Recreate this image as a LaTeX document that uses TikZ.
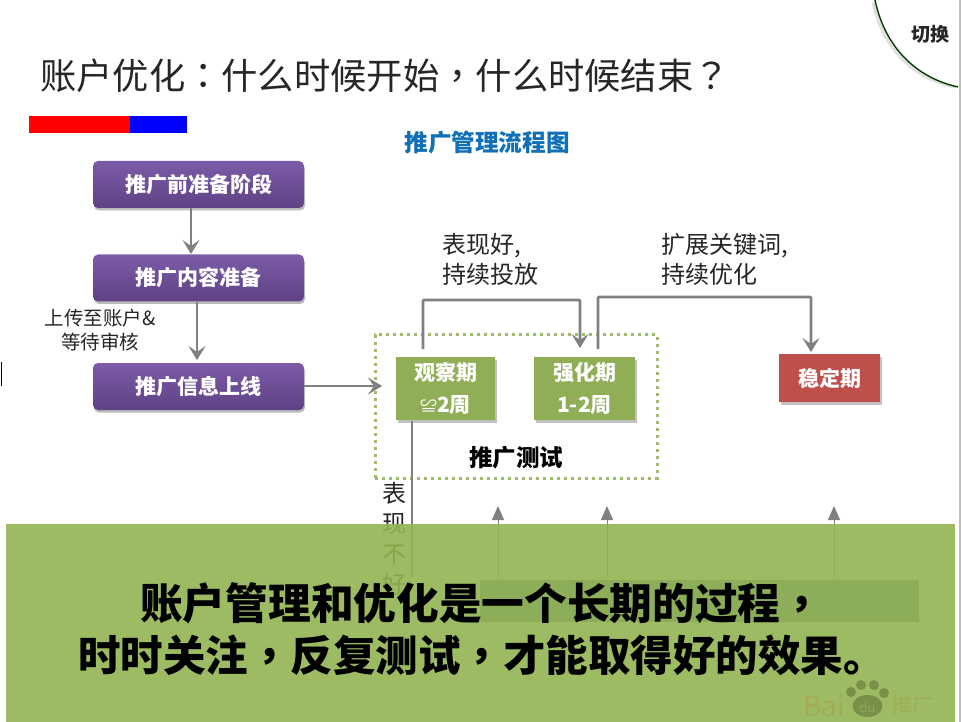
\documentclass[tikz,border=0pt]{standalone}
\usepackage{fontspec}
\setmainfont{Noto Sans CJK SC}
\newfontfamily\tcpunct{Noto Sans CJK TC}
\usetikzlibrary{arrows.meta,shadows}
\definecolor{conn}{HTML}{808080}
\definecolor{purpT}{HTML}{7C5BA8}
\definecolor{purpB}{HTML}{5E4284}
\definecolor{grn}{HTML}{8FAE55}
\definecolor{redb}{HTML}{BE4F4B}
\definecolor{panel}{HTML}{92B451}
\definecolor{strip}{HTML}{8DAE59}
\definecolor{bluet}{HTML}{0F70B8}
\newcommand{\fs}[1]{\fontsize{#1}{#1}\selectfont}
\newcommand{\pc}[1]{{\tcpunct #1}}
\tikzset{
  x=1pt,y=-1pt,
  purplebox/.style={rounded corners=5pt,top color=purpT,bottom color=purpB,draw=none,
    minimum width=211pt,minimum height=47pt,inner sep=0pt,text=white,font=\fs{21}\bfseries,
    drop shadow={shadow xshift=1pt,shadow yshift=-2.5pt,fill=black!45,opacity=.6}},
  greenbox/.style={fill=grn,minimum width=99pt,minimum height=63pt,inner sep=0pt,text=white,
    font=\fontsize{21}{33}\selectfont\bfseries,align=center,
    drop shadow={shadow xshift=2pt,shadow yshift=-3pt,fill=black!30,opacity=.8}},
  redbox/.style={fill=redb,minimum width=101pt,minimum height=48pt,inner sep=0pt,text=white,
    font=\fs{21}\bfseries,drop shadow={shadow xshift=2pt,shadow yshift=-3pt,fill=black!30,opacity=.8}},
  linkline/.style={draw=conn,line width=2.8pt},
  barb/.style={-{Stealth[length=14pt,width=17pt,inset=6pt]}},
  linkarrow/.style={linkline,barb},
  uparrow/.style={draw=conn,line width=1pt,-{Triangle[length=14pt,width=12pt]}},
  plainlabel/.style={inner sep=0pt,align=left,text=black!85},
}
\begin{document}
\begin{tikzpicture}
\useasboundingbox (0,0) rectangle (962,722);
\fill[white] (0,0) rectangle (962,722);
\draw[black!25,line width=1.2pt] (960,0) -- (960,722);
\draw[black,line width=1pt] (1,362) -- (1,386);

% switch corner
\draw[black!12,line width=3pt] (873,2) .. controls (883,50) and (915,80) .. (956,87);
\draw[black!70!green!80!black,line width=1.4pt] (875,0) .. controls (885,48) and (917,78) .. (958,87);
\node[inner sep=0pt,text=black!85] (switch) at (930,34) {\fs{19}\bfseries 切换};

% title
\node[anchor=west,inner sep=0pt,text=black!85] (title) at (40,76) {\fs{36.3}账户优化\pc{：}什么时候开始\pc{，}什么时候结束\pc{？}};
\fill[red] (29,116) rectangle (130,133);
\fill[blue] (130,116) rectangle (187,133);
\node[inner sep=0pt,text=bluet] (chart) at (487,143) {\fs{23.6}\bfseries 推广管理流程图};

% left column
\node[purplebox] (a) at (198.5,184.5) {推广前准备阶段};
\node[purplebox] (b) at (198.5,278) {推广内容准备};
\node[purplebox] (c) at (198.5,386.5) {推广信息上线};
\draw[linkarrow] (191,208) coordinate (a1) -- (191,254) coordinate (b1);
\draw[linkarrow] (197,302) coordinate (b2) -- (197,360) coordinate (c1);
\node[inner sep=0pt,align=center,text=black!85,font=\fontsize{19.5}{24}\selectfont] (up) at (100,330) {上传至账户\&\\等待审核};

% test group
\node[draw=grn!85,line width=3pt,dash pattern=on 3pt off 4pt,minimum width=282pt,minimum height=143pt,inner sep=0pt] (grp) at (516,406.5) {};
\node[greenbox] (obs) at (445.5,388.5) {观察期\\[-1pt]{\fontsize{17}{21}\selectfont\mdseries ≌}2周};
\node[greenbox,minimum width=101pt] (str) at (584.5,388.5) {强化期\\[-1pt]1-2周};
\node[redbox] (stb) at (829.5,378) {稳定期};
\node[inner sep=0pt,text=black] (test) at (516,458) {\fs{23.5}\bfseries 推广测试};

% upper connectors
\coordinate (o1) at (423,349);
\coordinate (s1) at (580,348);
\coordinate (s2) at (598,349);
\coordinate (t1) at (811,352);
\draw[linkline,barb,rounded corners=1pt] (o1) -- (423,300) -- (580,300) -- (s1);
\draw[linkline,barb,rounded corners=1pt] (s2) -- (598,297) -- (811,297) -- (t1);
\draw[linkarrow] (c.east |- 0,386) -- (382,386);
\node[anchor=north west,plainlabel,font=\fontsize{24}{30}\selectfont] (good) at (442,233) {表现好,\\持续投放};
\node[anchor=north west,plainlabel,font=\fontsize{24}{30}\selectfont] (ext) at (661,233) {扩展关键词,\\持续优化};

% lower connectors (run under the panel)
\coordinate (d1) at (412,421);
\coordinate (d2) at (412,577);
\draw[linkline] (d1) -- (d2);
\node[anchor=north,inner sep=0pt,align=center,text=black!85,font=\fontsize{24}{30.5}\selectfont] (bad) at (394,482) {表\\现\\不\\好};
\draw[uparrow] (498,576) coordinate (u1) -- (498,506) coordinate (u2);
\draw[uparrow] (607,576) coordinate (v1) -- (607,506) coordinate (v2);
\draw[uparrow] (834,576) coordinate (w1) -- (834,506) coordinate (w2);

% overlay panel
\fill[panel,fill opacity=.9] (6,524) rectangle (955,722);
\fill[strip] (480,580) rectangle (919,622);

% watermark
\begin{scope}[opacity=.4]
\node[anchor=west,inner sep=0pt,text=brown!60!panel] (bai) at (803,706) {\fs{28}Bai};
\foreach \cx/\cy/\rr in {851/692/5,861/685/5,874/685/5,884/693/5}{\fill[black!55!panel] (\cx,\cy) circle (\rr);}
\fill[black!55!panel] (867.5,706) ellipse (15 and 11);
\node[inner sep=0pt,text=panel!70!white] (du) at (867.5,707) {\fs{13}du};
\node[anchor=west,inner sep=0pt,text=brown!60!panel] (tg) at (891,705) {\fs{21}推广};
\end{scope}

% message
\node[anchor=west,inner sep=0pt,text=black] (m1) at (140,603) {\fs{42.7}\bfseries 账户管理和优化是一个长期的过程\pc{，}};
\node[anchor=west,inner sep=0pt,text=black] (m2) at (78,655) {\fs{42.5}\bfseries 时时关注\pc{，}反复测试\pc{，}才能取得好的效果。};
\end{tikzpicture}
\end{document}
